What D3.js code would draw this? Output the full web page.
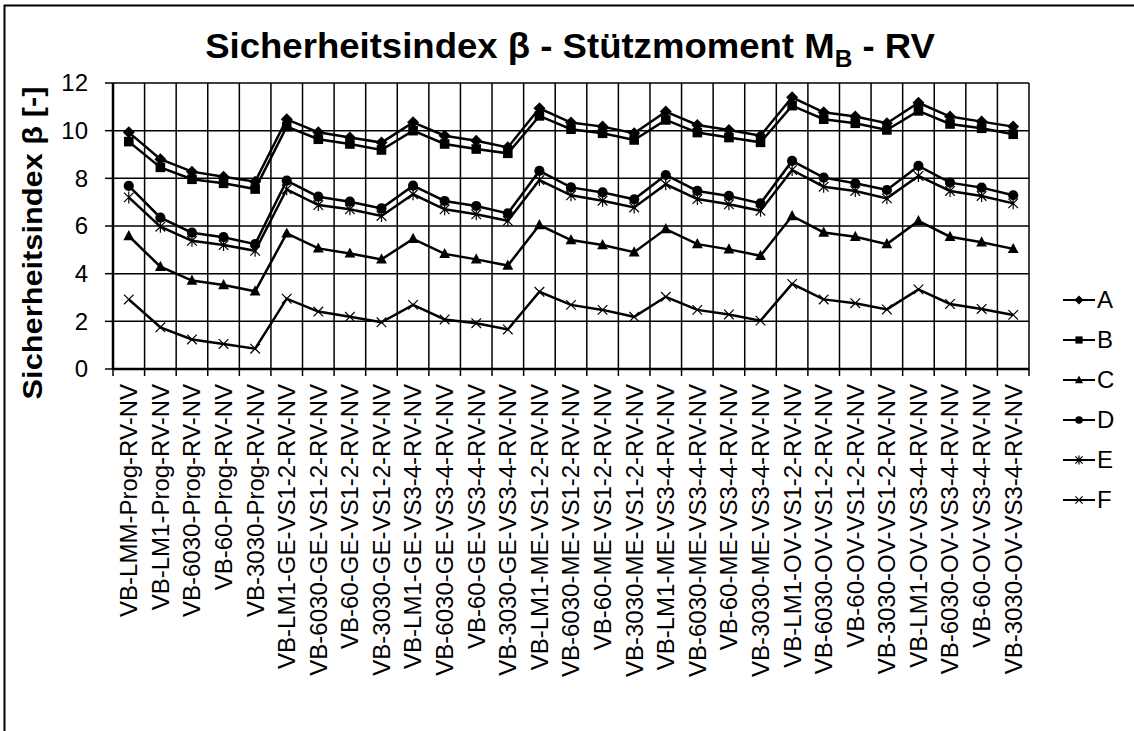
<!DOCTYPE html>
<html>
<head>
<meta charset="utf-8">
<script src="https://cdn.jsdelivr.net/npm/d3@7"></script>
<style>
    body { margin: 0; background: #fff; }
    text { font-family: Arial, "Liberation Sans", sans-serif; fill: #000; }
</style>
</head>
<body>
<div id="chart"></div>
<script>
// categories on the x axis
const categories = [
    "VB-LMM-Prog-RV-NV", "VB-LM1-Prog-RV-NV", "VB-6030-Prog-RV-NV", "VB-60-Prog-RV-NV", "VB-3030-Prog-RV-NV",
    "VB-LM1-GE-VS1-2-RV-NV", "VB-6030-GE-VS1-2-RV-NV", "VB-60-GE-VS1-2-RV-NV", "VB-3030-GE-VS1-2-RV-NV",
    "VB-LM1-GE-VS3-4-RV-NV", "VB-6030-GE-VS3-4-RV-NV", "VB-60-GE-VS3-4-RV-NV", "VB-3030-GE-VS3-4-RV-NV",
    "VB-LM1-ME-VS1-2-RV-NV", "VB-6030-ME-VS1-2-RV-NV", "VB-60-ME-VS1-2-RV-NV", "VB-3030-ME-VS1-2-RV-NV",
    "VB-LM1-ME-VS3-4-RV-NV", "VB-6030-ME-VS3-4-RV-NV", "VB-60-ME-VS3-4-RV-NV", "VB-3030-ME-VS3-4-RV-NV",
    "VB-LM1-OV-VS1-2-RV-NV", "VB-6030-OV-VS1-2-RV-NV", "VB-60-OV-VS1-2-RV-NV", "VB-3030-OV-VS1-2-RV-NV",
    "VB-LM1-OV-VS3-4-RV-NV", "VB-6030-OV-VS3-4-RV-NV", "VB-60-OV-VS3-4-RV-NV", "VB-3030-OV-VS3-4-RV-NV"
];

// series values
const seriesA = [9.93, 8.80, 8.28, 8.07, 7.86, 10.48, 9.93, 9.71, 9.50, 10.35, 9.79, 9.58, 9.30,
    10.94, 10.34, 10.17, 9.89, 10.80, 10.24, 10.03, 9.79, 11.40, 10.77, 10.59, 10.31, 11.17, 10.59, 10.38, 10.17];
const seriesB = [9.54, 8.46, 7.96, 7.79, 7.55, 10.17, 9.64, 9.44, 9.19, 10.00, 9.44, 9.23, 9.05,
    10.62, 10.06, 9.89, 9.61, 10.45, 9.92, 9.71, 9.51, 11.05, 10.48, 10.31, 10.03, 10.83, 10.28, 10.10, 9.85];
const seriesC = [5.58, 4.29, 3.71, 3.52, 3.26, 5.69, 5.06, 4.85, 4.60, 5.46, 4.83, 4.60, 4.34,
    6.04, 5.41, 5.20, 4.90, 5.87, 5.24, 5.02, 4.75, 6.42, 5.73, 5.55, 5.24, 6.21, 5.55, 5.32, 5.04];
const seriesD = [7.68, 6.35, 5.72, 5.53, 5.24, 7.90, 7.23, 7.02, 6.74, 7.69, 7.05, 6.84, 6.53,
    8.31, 7.62, 7.41, 7.12, 8.14, 7.47, 7.26, 6.95, 8.73, 8.03, 7.79, 7.51, 8.52, 7.82, 7.61, 7.29];
const seriesE = [7.20, 5.97, 5.38, 5.20, 4.96, 7.54, 6.88, 6.70, 6.42, 7.33, 6.70, 6.49, 6.22,
    7.93, 7.29, 7.06, 6.78, 7.75, 7.13, 6.91, 6.64, 8.35, 7.65, 7.47, 7.16, 8.10, 7.47, 7.26, 6.95];
const seriesF = [2.92, 1.75, 1.24, 1.05, 0.85, 2.95, 2.41, 2.19, 1.96, 2.69, 2.08, 1.92, 1.66,
    3.24, 2.69, 2.48, 2.19, 3.03, 2.48, 2.29, 2.03, 3.57, 2.92, 2.76, 2.50, 3.34, 2.73, 2.52, 2.27];

const seriesNames = ["A", "B", "C", "D", "E", "F"];
const yTicks = [0, 2, 4, 6, 8, 10, 12];

const series = [
    {name: "A", values: seriesA, symbol: "diamond"},
    {name: "B", values: seriesB, symbol: "square"},
    {name: "C", values: seriesC, symbol: "triangle"},
    {name: "D", values: seriesD, symbol: "circle"},
    {name: "E", values: seriesE, symbol: "star"},
    {name: "F", values: seriesF, symbol: "cross"}
];

const W = 1134, H = 731;
const plot = {left: 113, right: 1029, top: 83, bottom: 369};

const svg = d3.select("#chart").append("svg")
    .attr("width", W)
    .attr("height", H);

// outer chart frame
svg.append("rect")
    .attr("x", 4.5).attr("y", 5.5)
    .attr("width", 1200).attr("height", 800)
    .attr("fill", "none")
    .attr("stroke", "#000")
    .attr("stroke-width", 2);

const x = d3.scaleBand()
    .domain(categories)
    .range([plot.left, plot.right]);

const y = d3.scaleLinear()
    .domain([0, 12])
    .range([plot.bottom, plot.top]);

const cx = d => x(d) + x.bandwidth() / 2;

// grid
const grid = svg.append("g").attr("stroke", "#000").attr("stroke-width", 1.5);
grid.selectAll(".hgrid")
    .data(yTicks)
    .enter()
    .append("line")
    .attr("x1", plot.left).attr("x2", plot.right)
    .attr("y1", d => y(d)).attr("y2", d => y(d));

const edges = categories.map(c => x(c)).concat([plot.right]);
grid.selectAll(".vgrid")
    .data(edges)
    .enter()
    .append("line")
    .attr("x1", d => d).attr("x2", d => d)
    .attr("y1", plot.top).attr("y2", plot.bottom);

// x axis with ticks between categories
svg.append("line")
    .attr("x1", plot.left).attr("x2", plot.right)
    .attr("y1", plot.bottom).attr("y2", plot.bottom)
    .attr("stroke", "#000").attr("stroke-width", 2.5);
svg.append("g").selectAll("line")
    .data(edges)
    .enter()
    .append("line")
    .attr("x1", d => d).attr("x2", d => d)
    .attr("y1", plot.bottom).attr("y2", plot.bottom + 7)
    .attr("stroke", "#000").attr("stroke-width", 1.5);

svg.append("g").selectAll("text")
    .data(categories)
    .enter()
    .append("text")
    .attr("transform", d => `translate(${cx(d)}, ${plot.bottom + 15}) rotate(-90)`)
    .attr("dy", "0.35em")
    .attr("text-anchor", "end")
    .style("font-size", "24px")
    .text(d => d);

// y axis
svg.append("line")
    .attr("x1", plot.left).attr("x2", plot.left)
    .attr("y1", plot.top).attr("y2", plot.bottom)
    .attr("stroke", "#000").attr("stroke-width", 2.5);
svg.append("g").selectAll("line")
    .data(yTicks)
    .enter()
    .append("line")
    .attr("x1", plot.left - 8).attr("x2", plot.left)
    .attr("y1", d => y(d)).attr("y2", d => y(d))
    .attr("stroke", "#000").attr("stroke-width", 1.5);
svg.append("g").selectAll("text")
    .data(yTicks)
    .enter()
    .append("text")
    .attr("x", 88)
    .attr("y", d => y(d))
    .attr("dy", "0.35em")
    .attr("text-anchor", "end")
    .style("font-size", "24px")
    .text(d => d);

// titles (fitted to the width seen in the picture)
const titleG = svg.append("g");
const title = titleG.append("text")
    .attr("text-anchor", "middle")
    .style("font-size", "36px")
    .style("font-weight", "bold");
title.append("tspan").text("Sicherheitsindex β - Stützmoment M");
title.append("tspan").attr("dy", 9).style("font-size", "24px").text("B");
title.append("tspan").attr("dy", -9).text(" - RV");
const tw = title.node().getBBox().width;
titleG.attr("transform", `translate(570, 58) scale(${730 / tw}, 1)`);

const yTitleG = svg.append("g");
const yTitle = yTitleG.append("text")
    .attr("text-anchor", "middle")
    .style("font-size", "28px")
    .style("font-weight", "bold")
    .text("Sicherheitsindex β [-]");
const yw = yTitle.node().getBBox().width;
yTitleG.attr("transform", `translate(42, 243) rotate(-90) scale(${313 / yw}, 1)`);

// lines and markers
const line = d3.line()
    .x((d, i) => cx(categories[i]))
    .y(d => y(d));

function drawMarker(g, type, px, py, s) {
    if (type === "diamond") {
        g.append("path").attr("d", `M${px},${py - s}L${px + s},${py}L${px},${py + s}L${px - s},${py}Z`).attr("fill", "#000");
    } else if (type === "square") {
        g.append("rect").attr("x", px - s * 0.8).attr("y", py - s * 0.8)
            .attr("width", s * 1.6).attr("height", s * 1.6).attr("fill", "#000");
    } else if (type === "triangle") {
        g.append("path").attr("d", `M${px},${py - s}L${px + s * 0.9},${py + s * 0.7}L${px - s * 0.9},${py + s * 0.7}Z`).attr("fill", "#000");
    } else if (type === "circle") {
        g.append("circle").attr("cx", px).attr("cy", py).attr("r", s * 0.85).attr("fill", "#000");
    } else if (type === "star") {
        g.append("path")
            .attr("d", `M${px - s * 0.8},${py - s * 0.8}L${px + s * 0.8},${py + s * 0.8}M${px - s * 0.8},${py + s * 0.8}L${px + s * 0.8},${py - s * 0.8}M${px},${py - s}L${px},${py + s}`)
            .attr("stroke", "#000").attr("stroke-width", 1.2).attr("fill", "none");
    } else {
        g.append("path")
            .attr("d", `M${px - s * 0.8},${py - s * 0.8}L${px + s * 0.8},${py + s * 0.8}M${px - s * 0.8},${py + s * 0.8}L${px + s * 0.8},${py - s * 0.8}`)
            .attr("stroke", "#000").attr("stroke-width", 1.2).attr("fill", "none");
    }
}

series.forEach(s => {
    svg.append("path")
        .datum(s.values)
        .attr("d", line)
        .attr("fill", "none")
        .attr("stroke", "#000")
        .attr("stroke-width", 2.5);
    const g = svg.append("g");
    s.values.forEach((v, i) => drawMarker(g, s.symbol, cx(categories[i]), y(v), 6));
});

// legend
const legend = svg.append("g");
seriesNames.forEach((name, i) => {
    const ly = 300 + i * 40;
    legend.append("line")
        .attr("x1", 1063).attr("x2", 1095)
        .attr("y1", ly).attr("y2", ly)
        .attr("stroke", "#000").attr("stroke-width", 2);
    drawMarker(legend, series[i].symbol, 1079, ly, 4.5);
    legend.append("text")
        .attr("x", 1097)
        .attr("y", ly)
        .attr("dy", "0.35em")
        .style("font-size", "24px")
        .text(name);
});
</script>
</body>
</html>
